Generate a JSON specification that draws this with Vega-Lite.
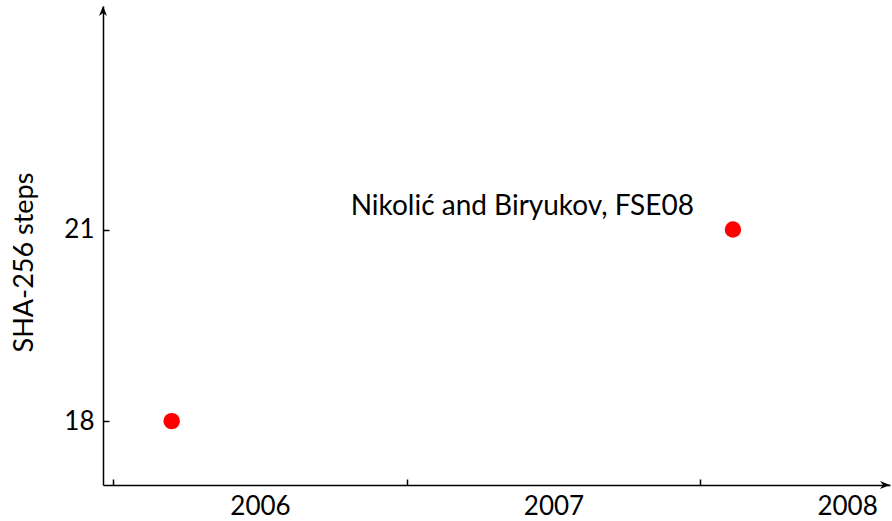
{
  "$schema": "https://vega.github.io/schema/vega-lite/v6.json",
  "width": 787,
  "height": 479,
  "autosize": {"type": "none"},
  "padding": {"left": 103, "top": 6, "right": 2, "bottom": 36},
  "background": "white",
  "config": {"view": {"stroke": null}, "font": "Lato"},
  "datasets": {
    "attacks": [
      {"year": 2006.2, "steps": 18, "label": ""},
      {"year": 2008.112, "steps": 21, "label": "Nikolić and Biryukov, FSE08"}
    ],
    "xend": [{"year": 2008.647, "steps": 17}],
    "yend": [{"year": 2005.966, "steps": 24.5}]
  },
  "layer": [
    {
      "data": {"name": "attacks"},
      "mark": {"type": "point", "filled": true, "size": 270, "color": "#ff0000", "opacity": 1, "strokeWidth": 0},
      "encoding": {
        "x": {
          "field": "year", "type": "quantitative",
          "scale": {"domain": [2005.966, 2008.647], "nice": false, "zero": false},
          "axis": {
            "values": [2006, 2007, 2008], "format": "d", "title": null, "grid": false,
            "labelOffset": 147, "labelFlush": false, "labelOverlap": false,
            "tickSize": -6, "tickWidth": 1.5, "tickColor": "black",
            "domainColor": "black", "domainWidth": 1.5,
            "labelFontSize": 26, "labelColor": "black", "labelPadding": 14
          }
        },
        "y": {
          "field": "steps", "type": "quantitative",
          "scale": {"domain": [17, 24.5], "nice": false, "zero": false},
          "axis": {
            "values": [18, 21], "format": "d", "title": "SHA-256 steps", "grid": false,
            "tickSize": -6, "tickWidth": 1.5, "tickColor": "black",
            "domainColor": "black", "domainWidth": 1.5,
            "labelFontSize": 26, "labelColor": "black", "labelPadding": 15,
            "titleFontSize": 27, "titleFontWeight": "normal", "titleColor": "black",
            "titleX": -71, "titleY": 256, "titleAngle": -90, "titleBaseline": "alphabetic", "titleAlign": "center"
          }
        }
      }
    },
    {
      "data": {"name": "attacks"},
      "mark": {"type": "text", "align": "right", "baseline": "alphabetic", "dx": -39, "dy": -15, "fontSize": 28, "color": "black"},
      "encoding": {
        "x": {"field": "year", "type": "quantitative"},
        "y": {"field": "steps", "type": "quantitative"},
        "text": {"field": "label"}
      }
    },
    {
      "data": {"name": "xend"},
      "mark": {"type": "point", "filled": true, "size": 100, "color": "black", "opacity": 1, "strokeWidth": 0, "shape": "M0,0 L-2,-0.8 L-1.4,0 L-2,0.8 Z"},
      "encoding": {
        "x": {"field": "year", "type": "quantitative"},
        "y": {"field": "steps", "type": "quantitative"}
      }
    },
    {
      "data": {"name": "yend"},
      "mark": {"type": "point", "filled": true, "size": 100, "color": "black", "opacity": 1, "strokeWidth": 0, "angle": 270, "shape": "M0,0 L-2,-0.8 L-1.4,0 L-2,0.8 Z"},
      "encoding": {
        "x": {"field": "year", "type": "quantitative"},
        "y": {"field": "steps", "type": "quantitative"}
      }
    }
  ]
}
